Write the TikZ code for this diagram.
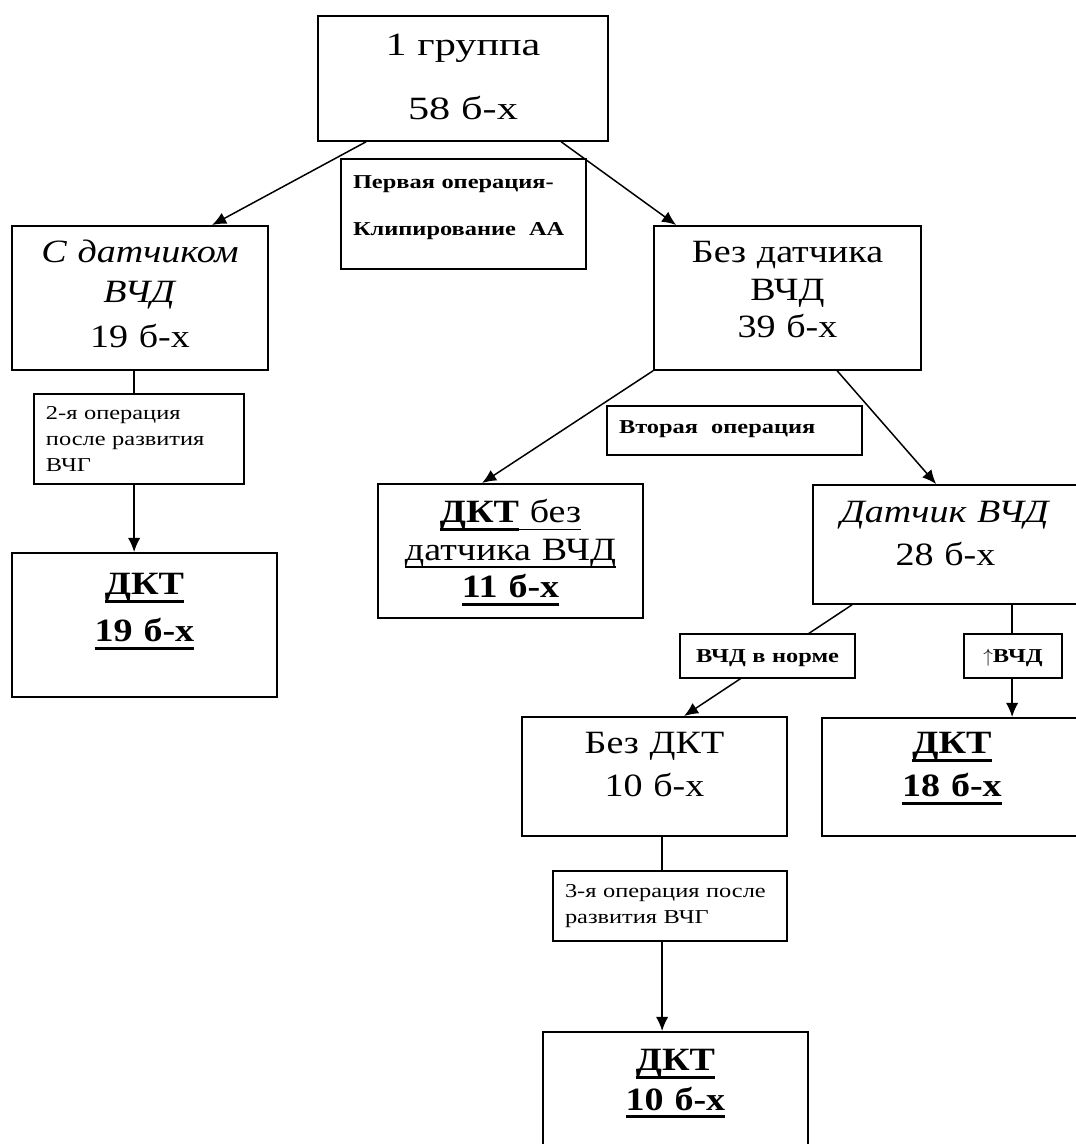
\documentclass[tikz,border=0pt]{standalone}
\usepackage{fontspec}
\setmainfont{Liberation Serif}[FakeStretch=1.17]
\newfontfamily\topfont{Liberation Serif}[FakeStretch=1.3]
\newfontfamily\notefont{Liberation Serif}[FakeStretch=1.24]
\usetikzlibrary{calc,arrows.meta}
\newsavebox{\ulbox}
\newcommand{\ulbold}[1]{\leavevmode\sbox{\ulbox}{#1}\rlap{\rule[-4.6pt]{\wd\ulbox}{1.7pt}}\usebox{\ulbox}}
\newcommand{\ulthin}[1]{\leavevmode\sbox{\ulbox}{#1}\rlap{\rule[-4.3pt]{\wd\ulbox}{0.9pt}}\usebox{\ulbox}}

\begin{document}
\begin{tikzpicture}[
	x=0.02cm, y=-0.02cm,
	cell/.style args={#1/#2/#3}{% width / height / first baseline
		draw,
		line width=1pt,
		fill=white,
		anchor=north,
		inner xsep=0.24cm,
		inner ysep=0pt,
		align=center,
		text width=(#1-24)*0.02cm,
		text height=#3*0.02cm,
		text depth=(#2-#3)*0.02cm,
		font=\fontsize{18.5}{21.3}\selectfont
	},
	note/.style={
		font=\notefont\bfseries\fontsize{11.2}{14.8}\selectfont
	},
	noteplain/.style={
		font=\notefont\fontsize{11.2}{14.8}\selectfont
	},
	ArrowV/.style={
		-{Latex[length=8pt,width=7pt]},
		line width=0.85pt,
	},
]
	\useasboundingbox (0,0) rectangle (1076,1144);
	\clip (0,0) rectangle (1076,1144);

	\node [cell=290/125/40, font=\topfont\fontsize{18.5}{21.3}\selectfont] (grp) at (463,15) {1 группа\\[15pt]58 б-х};

	\node [cell=256/144/37] (sdat) at (140,225) {\textit{С датчиком}\\[1.5pt]\textit{ВЧД}\\[4.3pt]19 б-х};
	\node [cell=267/144/37] (bezdat) at (787.5,225) {Без датчика\\ВЧД\\39 б-х};

	\node [cell=265/144/42] (dkt19) at (144.5,552) {\ulbold{\textbf{ДКТ}}\\[5.4pt]\ulbold{\textbf{19 б-х}}};
	\node [cell=265/134/39] (dktbez) at (510.5,483) {\ulbold{\textbf{ДКТ}}\ulthin{\ без}\\\ulthin{датчика ВЧД}\\\ulbold{\textbf{11 б-х}}};
	\node [cell=265/119/38] (dat) at (945.5,484) {\textit{Датчик ВЧД}\\[3.2pt]28 б-х};

	\node [cell=265/119/37] (bezdkt) at (654.5,716) {Без ДКТ\\[3.2pt]10 б-х};
	\node [cell=260/118/36] (dkt18) at (952,717) {\ulbold{\textbf{ДКТ}}\\[3.2pt]\ulbold{\textbf{18 б-х}}};

	\node [cell=265/160/39] (dkt10) at (675.5,1031) {\ulbold{\textbf{ДКТ}}\\[1pt]\ulbold{\textbf{10 б-х}}};

	\draw [ArrowV] ($(grp.south west)+(49,0)$) -- ($(sdat.north west)+(201,0)$);
	\draw [ArrowV] ($(grp.south west)+(244,0)$) -- ($(bezdat.north west)+(23,0)$);
	\draw [ArrowV] (bezdat.south west) -- ($(dktbez.north west)+(105,0)$);
	\draw [ArrowV] ($(bezdat.south west)+(184,0)$) -- ($(dat.north west)+(124,0)$);
	\draw [ArrowV] ($(sdat.south west)+(123,0)$) -- ($(dkt19.north west)+(123,0)$);
	\draw [ArrowV] ($(dat.south west)+(40,0)$) -- ($(bezdkt.north west)+(163,0)$);
	\draw [ArrowV] ($(dat.south west)+(200,0)$) -- ($(dkt18.north west)+(191,0)$);
	\draw [ArrowV] ($(bezdkt.south west)+(141,0)$) -- ($(dkt10.north west)+(120,0)$);

	% operation labels, on top of the lines
	\node [cell=245/110/30, note, align=left] (op1) at (463.5,158) {Первая операция-\\[12pt]Клипирование~ АА};
	\node [cell=210/90/26, noteplain, align=left] (op2) at (139,393) {2-я операция\\после развития\\ВЧГ};
	\node [cell=255/49/28, note, align=left] (op2nd) at (734.5,405) {Вторая~ операция};
	\node [cell=175/44/29, note] (norm) at (767.5,633) {ВЧД в норме};
	\node [cell=98/44/29, note] (up) at (1013,633) {$\uparrow$ВЧД};
	\node [cell=234/70/27, noteplain, align=left] (op3) at (670,870) {3-я операция после\\развития ВЧГ};
\end{tikzpicture}
\end{document}
